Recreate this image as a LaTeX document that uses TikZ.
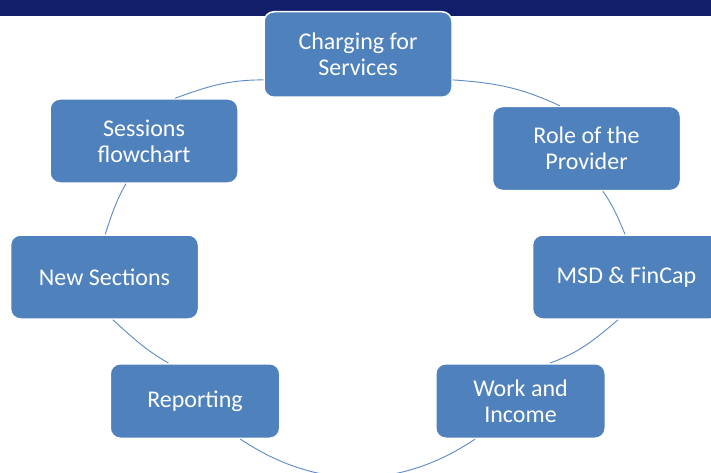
\documentclass[tikz,border=0pt]{standalone}
\usepackage{fontspec}
\setmainfont{Carlito}
\definecolor{band}{HTML}{111F6B}
\definecolor{boxblue}{HTML}{4F81BD}
\definecolor{arcblue}{HTML}{5B8AC6}
\begin{document}
\begin{tikzpicture}[x=1pt,y=-1pt,
  topic/.style={rectangle, rounded corners=10pt, fill=boxblue, draw=white,
    line width=1.5pt, text=white, align=center, inner sep=0pt,
    font=\fontsize{24}{26}\selectfont,
    minimum width=188pt, minimum height=84pt},
  lowbox/.style={topic, minimum width=169.5pt, minimum height=74.5pt},
  link/.style={draw=arcblue, line width=0.9pt}]
\useasboundingbox (0,0) rectangle (711,473);
\clip (0,0) rectangle (711,473);

% title band
\fill[band] (0,0) rectangle (711,16.5);

% topics
\node[topic, minimum height=85.5pt] (charge) at (358,54.5) {Charging for\\Services};
\node[topic] (role) at (586.5,148.5) {Role of the\\Provider};
\node[topic] (msd) at (626.5,277) {MSD \& FinCap};
\node[lowbox] (wi) at (520.5,401) {Work and\\Income};
\node[lowbox] (rep) at (195,401) {Reporting};
\node[topic] (new) at (104.5,277) {New Sections};
\node[topic] (ses) at (144,141) {Sessions\\flowchart};

% cycle arcs
\draw[link] (ses.54)    to[out=20,in=180]   (charge.195);
\draw[link] (charge.-15) to[out=-4,in=155]  (role.122);
\draw[link] (role.-69)  to[out=-55,in=113]  (msd.92);
\draw[link] (msd.259)   to[out=220,in=20]   (wi.52);
\draw[link] (wi.220)    to[out=214,in=-34]  (rep.-40);
\draw[link] (rep.125)   to[out=150,in=-42]  (new.-79);
\draw[link] (new.89)    to[out=72,in=-119]  (ses.247);
\end{tikzpicture}
\end{document}
